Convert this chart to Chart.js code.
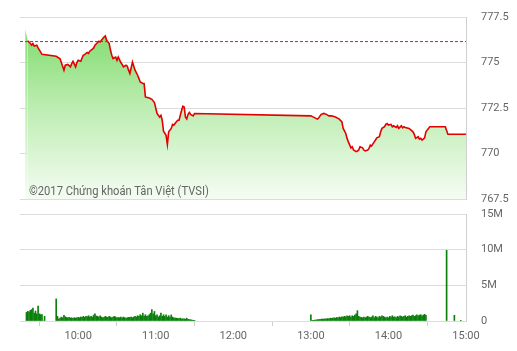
<!DOCTYPE html>
<html>
<head>
<meta charset="utf-8">
<script src="https://cdn.jsdelivr.net/npm/chart.js@4.4.1/dist/chart.umd.min.js"></script>
<style>
  html, body { margin: 0; padding: 0; background: #fff; }
  #wrap { position: relative; width: 517px; height: 351px; overflow: hidden; }
  #priceBox { position: absolute; left: 0; top: 0; }
  #volBox { position: absolute; left: 0; top: 205px; }
  #copy { position: absolute; left: 29px; top: 184px; font-size: 13px; line-height: 13px;
          font-family: Roboto, sans-serif; color: #666; white-space: nowrap;
          transform: scaleX(0.86); transform-origin: 0 0; }
</style>
</head>
<body>
<div id="wrap">
  <div id="priceBox"><canvas id="price" width="517" height="210"></canvas></div>
  <div id="volBox"><canvas id="vol" width="517" height="146"></canvas></div>
  <div id="copy">©2017 Chứng khoán Tân Việt (TVSI)</div>
</div>
<script>
// ---------- DATA ----------
const refPrice = 776.15;
const priceTimes = ["09:19","09:21","09:23","09:24","09:25","09:26","09:28","09:29","09:32","09:43","09:46","09:49","09:50","09:52","09:54","09:55","09:56","09:58","09:59","10:00","10:02","10:03","10:04","10:05","10:07","10:08","10:09","10:11","10:12","10:13","10:15","10:16","10:17","10:18","10:20","10:21","10:22","10:24","10:25","10:26","10:27","10:29","10:30","10:31","10:33","10:34","10:35","10:37","10:38","10:39","10:40","10:42","10:44","10:46","10:47","10:48","10:50","10:51","10:52","10:55","10:57","10:59","11:01","11:02","11:03","11:04","11:05","11:06","11:08","11:09","11:10","11:12","11:13","11:14","11:16","11:17","11:18","11:20","11:21","11:22","11:23","11:24","11:25","11:26","11:27","11:29","11:30",
  "13:00","13:02","13:05","13:06","13:08","13:10","13:12","13:14","13:16","13:19","13:22","13:24","13:25","13:27","13:28","13:29","13:31","13:32","13:33","13:35","13:36","13:37","13:38","13:40","13:41","13:42","13:44","13:45","13:46","13:47","13:49","13:50","13:51","13:53","13:54","13:55","13:57","13:58","13:59","14:00","14:02","14:03","14:04","14:06","14:07","14:08","14:10","14:11","14:12","14:13","14:16","14:19","14:20","14:21","14:23","14:24","14:25","14:26","14:28","14:29","14:32","14:44","14:46","15:00"];
const priceValues = [776.83,776.2,776.04,775.95,776.04,775.9,775.95,775.8,775.45,775.34,775.2,774.58,774.85,774.89,774.76,774.94,775.07,774.76,775.0,775.12,775.07,775.25,775.4,775.43,775.55,775.5,775.62,775.73,775.8,775.95,776.1,776.17,776.13,776.22,776.4,776.46,776.22,776.04,775.67,775.4,775.22,775.3,775.12,775.3,775.0,774.9,774.76,774.85,774.8,774.58,774.4,775.03,774.58,774.3,774.12,773.93,773.85,773.85,773.11,773.05,772.98,772.8,772.2,772.1,772.0,772.1,771.83,771.23,771.0,770.5,771.19,771.38,771.6,771.56,771.74,771.83,771.83,772.38,772.6,772.56,772.0,771.9,772.15,772.26,772.15,772.07,772.2,
  772.07,772.0,771.89,771.95,772.15,772.2,772.15,772.07,772.07,772.0,771.89,771.74,771.38,771.1,770.83,770.64,770.31,770.37,770.19,770.1,770.14,770.19,770.37,770.31,770.19,770.14,770.19,770.28,770.46,770.42,770.64,770.74,770.86,770.92,771.19,771.38,771.47,771.6,771.65,771.56,771.6,771.47,771.52,771.43,771.52,771.38,771.52,771.41,771.47,771.43,771.38,771.19,771.05,770.83,770.92,770.79,770.83,770.74,770.86,771.19,771.47,771.47,771.06,771.06];

// volume in millions of shares, one bar per minute from the start time
const volOpenStart = "09:20";
const volOpen = [1.2,1.35,1.3,1.5,1.6,1.8,1.1,1.4,1.0,2.1,1.0,0.9,0.9,0,0.65];
const volMorningStart = "09:43";
const volMorning = [3.1,0.65,0.28,0.4,0.55,0.45,0.8,0.6,0.5,0.46,0.5,0.42,0.45,0.37,0.46,0.42,0.44,
  0.51,0.46,0.56,0.5,0.65,0.51,0.65,0.6,0.74,0.56,0.65,0.56,0.83,1.0,0.7,0.65,0.56,0.74,0.56,0.46,
  0.5,0.65,0.56,0.51,0.65,0.56,0.46,0.56,0.65,0.56,0.46,0.5,0.46,0.56,0.46,0.56,0.46,0.42,0.46,0.51,
  0.51,0.56,0.46,0.56,0.65,0.56,0.74,0.65,0.88,0.74,1.1,0.7,0.88,0.65,0.74,0.88,1.1,1.6,1.0,1.34,
  0.74,0.88,0.56,0.74,1.1,0.65,0.88,0.65,0.85,0.55,0.75,0.55,0.85,0.55,0.45,0.42,0.4,0.37,0.35,0.4,
  0.28,0.32,0.3,0.26,0.4,0.25,0.2,0.18,0.14,0.1,0.08];
const volAfternoonStart = "13:00";
const volAfternoon = [0.88,0.05,0.1,0.12,0.14,0.2,0.18,0.22,0.25,0.28,0.26,0.3,0.28,0.35,0.32,0.4,0.37,0.42,0.46,0.4,
  0.5,0.46,0.56,0.5,0.6,0.56,0.65,0.6,0.74,0.65,0.74,0.56,0.74,0.65,0.83,1.0,1.45,0.65,0.56,0.5,
  0.46,0.56,0.46,0.56,0.65,0.56,0.46,0.56,0.74,0.46,0.65,0.56,0.46,0.65,0.56,0.74,0.65,0.56,0.46,0.56,
  0.46,0.65,0.56,0.74,0.56,0.6,0.46,0.65,0.56,0.74,0.65,0.56,0.65,0.74,0.56,0.65,0.74,0.65,0.74,0.83,
  0.65,0.74,0.88,0.74,0.83,0.88,0.74,0.83,0.95,0.8];
const volCloseTimes = ["14:45","14:51","14:56"];
const volClose = [9.9,0.8,0.1];

const timeTicks = ["10:00","11:00","12:00","13:00","14:00","15:00"];
const priceTicks = [767.5,770,772.5,775,777.5];
const priceTickLabels = ["767.5","770","772.5","775","777.5"];
const volTicks = [0,5,10,15];
const volTickLabels = ["0","5M","10M","15M"];
const axisStart = "09:15", axisEnd = "15:00";

// ---------- helpers ----------
const toMin = t => { const [h,m] = t.split(":").map(Number); return h*60+m; };
const seq = (start, vals) => vals.map((v,i) => ({x: toMin(start)+i, y: v}));
const xMin = toMin(axisStart), xMax = toMin(axisEnd);
const FONT = "Roboto, sans-serif";
const LABEL = '#666';
const RIGHT_W = 51;
const fitRight = s => { s.width = RIGHT_W; s.paddingTop = 0; s.paddingBottom = 0; };

const pricePts = priceTimes.map((t,i) => ({x: toMin(t), y: priceValues[i]}));
const volPts = [].concat(seq(volOpenStart, volOpen), seq(volMorningStart, volMorning),
  seq(volAfternoonStart, volAfternoon), volCloseTimes.map((t,i)=>({x: toMin(t), y: volClose[i]})));

const fillGrad = ctx => {
  const a = ctx.chart.chartArea; if (!a) return 'rgba(0,0,0,0)';
  const g = ctx.chart.ctx.createLinearGradient(0, a.top, 0, a.bottom);
  g.addColorStop(0, '#78d965');
  g.addColorStop(0.5, '#bdedb2');
  g.addColorStop(1, '#f5fcf3');
  return g;
};

new Chart(document.getElementById('price'), {
  type: 'line',
  data: { datasets: [
    { data: [{x: xMin, y: refPrice}, {x: xMax, y: refPrice}], borderColor: '#d42020', borderWidth: 1,
      borderDash: [3,2], pointRadius: 0, fill: false },
    { data: pricePts, borderColor: '#e30000', borderWidth: 1.6, pointRadius: 0, tension: 0,
      fill: 'start', backgroundColor: fillGrad,
      segment: { borderColor: c => c.p0DataIndex === 0 ? 'rgba(0,0,0,0)' : undefined } }
  ]},
  options: {
    responsive: false, animation: false, events: [],
    layout: { padding: { left: 20, top: 17, bottom: 11, right: 0 } },
    plugins: { legend: { display: false }, tooltip: { enabled: false } },
    scales: {
      x: { type: 'linear', min: xMin, max: xMax, display: false },
      y: { position: 'right', min: priceTicks[0], max: priceTicks[priceTicks.length-1],
        afterBuildTicks: s => { s.ticks = priceTicks.map(v => ({value: v})); },
        afterFit: fitRight,
        grid: { color: '#dcdcdc', drawTicks: false },
        border: { display: true, color: '#cfcfcf' },
        ticks: { padding: 15, color: LABEL, font: { family: FONT, size: 11 },
          callback: v => priceTickLabels[priceTicks.indexOf(v)] } }
    }
  }
});

new Chart(document.getElementById('vol'), {
  type: 'bar',
  data: { datasets: [ { data: volPts, backgroundColor: '#0b7f0b', barThickness: 1 } ] },
  options: {
    responsive: false, animation: false, events: [],
    layout: { padding: { left: 20, top: 9, bottom: 0, right: 0 } },
    plugins: { legend: { display: false }, tooltip: { enabled: false } },
    scales: {
      x: { type: 'linear', min: xMin, max: xMax, offset: false,
        afterBuildTicks: s => { s.ticks = timeTicks.map(t => ({value: toMin(t)})); },
        afterFit: s => { s.height = 30; s.paddingLeft = 0; s.paddingRight = 0; },
        grid: { drawOnChartArea: false, drawTicks: true, tickLength: 5, color: '#cfcfcf' },
        border: { display: true, color: '#dcdcdc' },
        ticks: { padding: 4, maxRotation: 0, autoSkip: false, color: LABEL, font: { family: FONT, size: 11 },
          callback: v => timeTicks[timeTicks.map(toMin).indexOf(v)] } },
      y: { position: 'right', min: volTicks[0], max: volTicks[volTicks.length-1],
        afterBuildTicks: s => { s.ticks = volTicks.map(v => ({value: v})); },
        afterFit: fitRight,
        grid: { color: '#dcdcdc', drawTicks: false },
        border: { display: true, color: '#cfcfcf' },
        ticks: { padding: 15, color: LABEL, font: { family: FONT, size: 11 },
          callback: v => volTickLabels[volTicks.indexOf(v)] } }
    }
  }
});
</script>
</body>
</html>
